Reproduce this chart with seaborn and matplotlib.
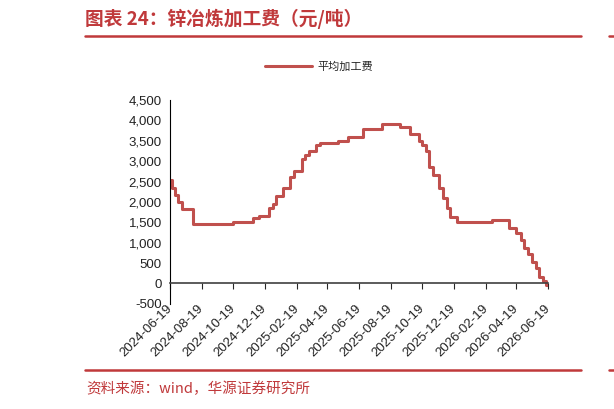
import pandas as pd
import matplotlib.pyplot as plt
import matplotlib.dates as mdates
import matplotlib.ticker as mticker
from matplotlib.lines import Line2D
import seaborn as sns

# 变动日期与对应的平均加工费（元/吨）
dates = ["2024-06-19", "2024-06-22", "2024-06-29", "2024-07-05", "2024-07-12",
         "2024-08-02", "2024-10-18", "2024-11-27", "2024-12-07", "2024-12-28",
         "2025-01-03", "2025-01-10", "2025-01-24", "2025-02-06", "2025-02-14",
         "2025-02-28", "2025-03-07", "2025-03-15", "2025-03-28", "2025-04-05",
         "2025-05-09", "2025-05-29", "2025-06-27", "2025-08-02", "2025-09-06",
         "2025-09-26", "2025-10-12", "2025-10-18", "2025-10-26", "2025-11-02",
         "2025-11-08", "2025-11-21", "2025-11-29", "2025-12-05", "2025-12-12",
         "2025-12-26", "2026-03-02", "2026-04-05", "2026-04-18", "2026-04-28",
         "2026-05-03", "2026-05-11", "2026-05-19", "2026-05-26", "2026-06-02",
         "2026-06-09", "2026-06-15", "2026-06-19"]
fee = [2540, 2330, 2170, 2000, 1820,
       1450, 1500, 1600, 1660, 1850,
       1950, 2150, 2350, 2600, 2750,
       3050, 3150, 3250, 3400, 3450,
       3500, 3600, 3800, 3900, 3850,
       3670, 3500, 3400, 3250, 2850,
       2650, 2350, 2100, 1850, 1620,
       1500, 1550, 1350, 1250, 1060,
       860, 720, 530, 370, 160,
       60, -30, -30]
tick_dates = ["2024-06-19", "2024-08-19", "2024-10-19", "2024-12-19", "2025-02-19",
              "2025-04-19", "2025-06-19", "2025-08-19", "2025-10-19", "2025-12-19",
              "2026-02-19", "2026-04-19", "2026-06-19"]

df = pd.DataFrame({"date": pd.to_datetime(dates), "平均加工费": fee})

sns.set_style("white")
plt.rcParams["font.family"] = ["Liberation Sans", "Noto Sans CJK SC", "DejaVu Sans"]

red = "#C0504D"
fig = plt.figure(figsize=(6.14, 4.09), dpi=100)
ax = fig.add_axes([0.277, 0.257, 0.6155, 0.4985])

sns.lineplot(data=df, x="date", y="平均加工费", ax=ax, color=red, linewidth=2.2,
             drawstyle="steps-post", label="平均加工费")

ax.set_xlim(pd.Timestamp("2024-06-19"), pd.Timestamp("2026-06-19"))
ax.set_ylim(-500, 4500)
ax.set_yticks(range(-500, 4501, 500))
ax.yaxis.set_major_formatter(mticker.FuncFormatter(lambda v, p: f"{int(v):,}"))
ax.set_xticks(pd.to_datetime(tick_dates))
ax.xaxis.set_major_formatter(mdates.DateFormatter("%Y-%m-%d"))
ax.set_xlabel("")
ax.set_ylabel("")

ax.spines["top"].set_visible(False)
ax.spines["right"].set_visible(False)
ax.spines["bottom"].set_position(("data", 0))
ax.spines["bottom"].set_color("#404040")
ax.spines["bottom"].set_linewidth(1.2)
ax.spines["left"].set_color("black")
ax.tick_params(axis="y", direction="out", length=4, width=0.8, labelsize=9.5, pad=2,
               labelcolor="#222222")
ax.tick_params(axis="x", direction="out", length=4, width=0.8, labelsize=9.5, pad=13,
               bottom=True, labelcolor="#222222")
for lab in ax.get_xticklabels():
    lab.set_rotation(45)
    lab.set_ha("right")
    lab.set_va("center")
    lab.set_rotation_mode("anchor")

leg = ax.legend(loc="upper center", bbox_to_anchor=(0.395, 1.24), frameon=False,
                fontsize=8, handlelength=4.2, handletextpad=0.5)
for t in leg.get_texts():
    t.set_family(["Noto Sans CJK SC", "DejaVu Sans"])

title_red = "#C0393B"
fig.text(0.139, 0.955, "图表 24：锌冶炼加工费（元/吨）", color=title_red, fontsize=13.5,
         fontweight="bold", va="center", ha="left",
         family=["Noto Sans CJK SC", "DejaVu Sans"])
fig.add_artist(Line2D([0.139, 0.946], [0.913, 0.913], color=title_red, linewidth=1.8))
fig.add_artist(Line2D([0.992, 1.0], [0.913, 0.913], color=title_red, linewidth=1.8))
fig.add_artist(Line2D([0.139, 0.946], [0.095, 0.095], color=title_red, linewidth=1.8))
fig.add_artist(Line2D([0.992, 1.0], [0.095, 0.095], color=title_red, linewidth=1.8))
fig.text(0.141, 0.049, "资料来源：wind，华源证券研究所", color=title_red, fontsize=10.5,
         va="center", ha="left", family=["Noto Sans CJK SC", "DejaVu Sans"])

fig.savefig("out.png", dpi=100)
